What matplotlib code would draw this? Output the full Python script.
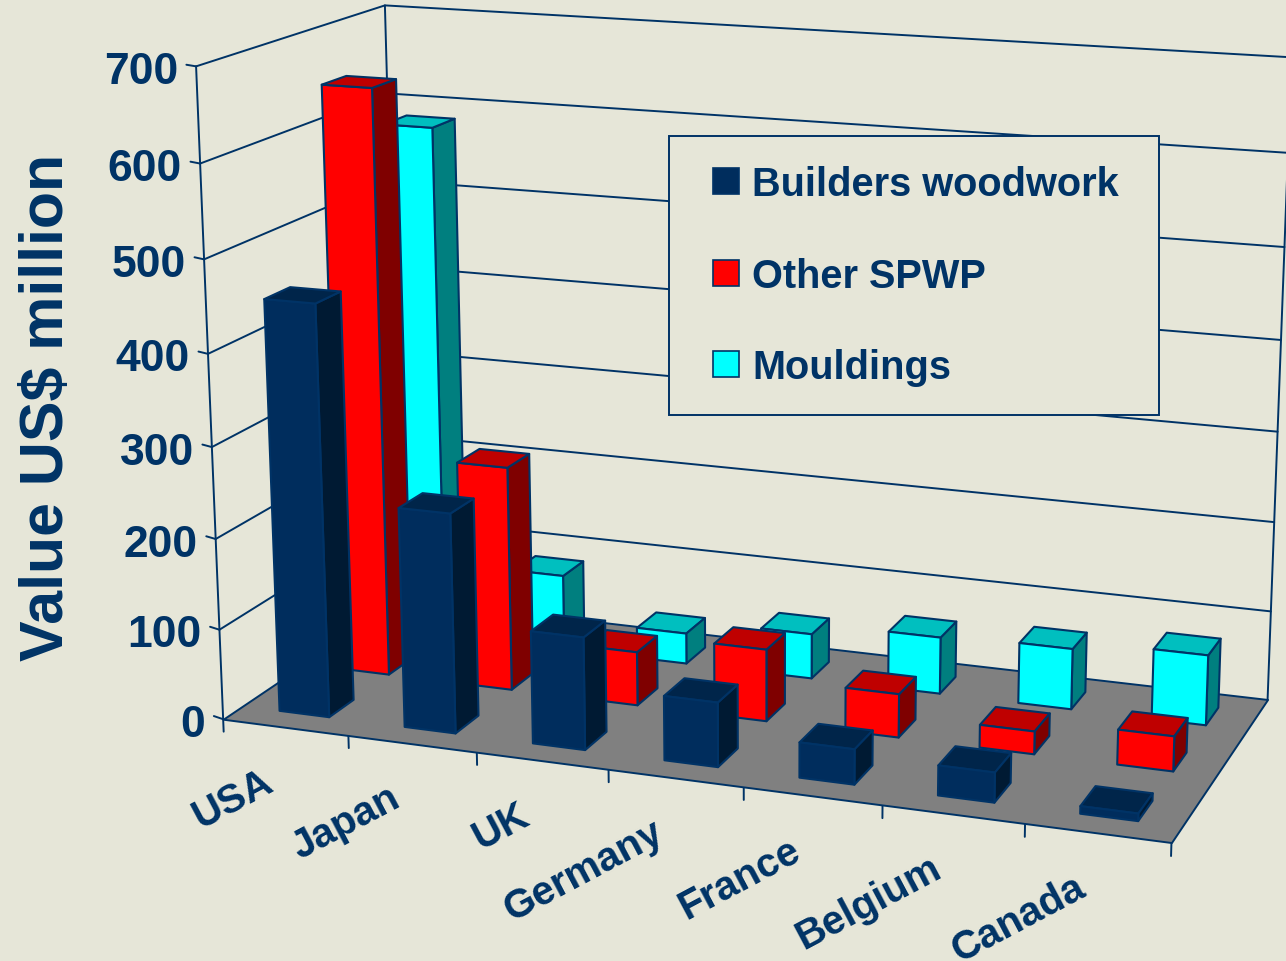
#!/usr/bin/python3

import matplotlib
matplotlib.use('Agg')
import matplotlib.pyplot as plt
from matplotlib.lines import Line2D
from mpl_toolkits.mplot3d import proj3d
from mpl_toolkits.mplot3d.art3d import Poly3DCollection
import numpy as np

countries = ['USA', 'Japan', 'UK', 'Germany', 'France', 'Belgium', 'Canada']
series_names = ['Builders woodwork', 'Other SPWP', 'Mouldings']
builders = [452, 241, 123, 70, 38, 32, 8]
other_spwp = [653, 251, 60, 80, 48, 25, 38]
mouldings = [585, 86, 35, 51, 64, 68, 78]
z_ticks = [0, 100, 200, 300, 400, 500, 600, 700]

W, H = 1286, 962
bg = '#e6e6d8'
navy = '#003366'
# front, top, side
shades = [('#002d5d', '#00254a', '#001a33'),
          ('#ff0000', '#bf0000', '#7f0000'),
          ('#00ffff', '#00bfbf', '#007f7f')]

plt.rcParams['font.family'] = ['Liberation Sans', 'DejaVu Sans']
plt.rcParams['font.weight'] = 'bold'

fig = plt.figure(figsize=(W/100, H/100), dpi=100, facecolor=bg)
ax = fig.add_axes([0, 0, 1, 1], projection='3d', computed_zorder=False)
ax.set_axis_off()
ax.set_facecolor('none')

# camera fitted to frame points: (x, y, z) -> pixel
frame_world = [(0, 0, 0), (1, 0, 0), (2, 0, 0), (3, 0, 0), (4, 0, 0), (5, 0, 0), (6, 0, 0), (7, 0, 0),
               (0, 0, 700), (0, 0, 600), (0, 0, 500), (0, 0, 200), (0, 0, 100),
               (0, 3, 700), (0, 3, 0), (7, 3, 0), (7, 3, 100), (7, 3, 200), (7, 3, 500), (7, 3, 700)]
frame_pixel = [(223, 721), (348, 737), (478, 754), (609, 771), (744, 787), (883, 806), (1024, 824), (1171, 842),
               (196, 67), (200, 164), (204, 260), (216, 540), (219, 632),
               (385, 8), (401, 597), (1267, 702), (1271, 614), (1275, 523), (1285, 247), (1291, 58)]

rows = []
for (X, Y, Z), (u, v) in zip(frame_world, frame_pixel):
    u, v = u/1000, (H - v)/1000
    Z = Z/100
    rows.append([X, Y, Z, 1, 0, 0, 0, 0, -u*X, -u*Y, -u*Z, -u])
    rows.append([0, 0, 0, 0, X, Y, Z, 1, -v*X, -v*Y, -v*Z, -v])
P = np.linalg.svd(np.array(rows))[2][-1].reshape(3, 4)
P[:, 2] /= 100
P = P / P[2, 3]

ax.apply_aspect()
to_data = ax.transData.inverted().frozen()
o = to_data.transform((0, 0))
e = to_data.transform((1000, 1000)) - o
A = np.array([[e[0], 0, o[0]], [0, e[1], o[1]], [0, 0, 1]])
P = A @ P
# third row is only a depth, kept negative because Line3D clips points with depth above 0
M = np.vstack([P[0], P[1], [-0.1, 0.3, -0.001, -2], P[2]])
ax.get_proj = lambda: M


def label(x, y, z, text, offset, **kw):
    # Text3D ignores rotation, so the labels are 2D annotations on the projected point
    xd, yd, _ = proj3d.proj_transform(x, y, z, M)
    ax.annotate(text, xy=(xd, yd), xycoords='data', xytext=offset, textcoords='offset pixels',
                color=navy, annotation_clip=False, zorder=500, **kw)


nx = len(countries)
ny = len(series_names)
ztop = z_ticks[-1]

# walls
line = dict(color=navy, lw=1.4, clip_on=False, zorder=1, solid_capstyle='round')
for z in z_ticks[1:]:
    ax.plot([0, 0, nx], [0, ny, ny], [z, z, z], **line)
    ax.plot([-0.095, 0], [0.037, 0], [z, z], **line)
ax.plot([-0.095, 0], [0.037, 0], [0, 0], **line)
for px, py in [(0, 0), (0, ny), (nx, ny)]:
    ax.plot([px, px], [py, py], [0, ztop], **line)

# floor
floor = Poly3DCollection([[(0, 0, 0), (nx, 0, 0), (nx, ny, 0), (0, ny, 0)]],
                         facecolors='#808080', edgecolors=navy, linewidths=1.4, zorder=2)
floor.set_clip_on(False)
ax.add_collection3d(floor)
for i in range(nx + 1):
    ax.plot([i, i], [0, 0], [0, -14], **line)

# bars, far series first and left to right inside a series
values = [builders, other_spwp, mouldings]
order = 3
for j in range(ny - 1, -1, -1):
    front, top, side = shades[j]
    # faces in bar3d order: -z, +z, -y, +y, -x, +x
    faces = ['none', top, front, 'none', 'none', side]
    edges = ['none', navy, navy, 'none', 'none', navy]
    for i in range(nx):
        ax.bar3d(i + 0.3, j + 0.3, 0, 0.4, 0.4, values[j][i], color=faces,
                 edgecolors=edges, linewidths=1.5, shade=False, zorder=order, clip_on=False)
        order += 1

# tick labels
for z in z_ticks:
    label(0, 0, z, str(z), (-18, -5), fontsize=32, ha='right', va='center')
for i, name in enumerate(countries):
    label(i + 0.5, 0, 0, name, (-15, -51), fontsize=29, rotation=28, ha='right', va='center',
          rotation_mode='anchor')

fig.text(48/W, 1 - 407/H, 'Value US$ million', color=navy, fontsize=43.8, rotation=90,
         ha='center', va='center')

handles = [Line2D([], [], ls='none', marker='s', ms=19.4, mfc=shades[k][0], mec=navy, mew=1.2)
           for k in range(ny)]
leg = ax.legend(handles, series_names, loc='lower left', mode='expand', ncol=1, numpoints=1,
                bbox_to_anchor=(669/W, 1 - 416/H, 490/W, 278/H), bbox_transform=fig.transFigure,
                fontsize=28.6, labelcolor=navy, frameon=True, fancybox=False, framealpha=1,
                facecolor=bg, edgecolor=navy, borderaxespad=0, borderpad=0.73, labelspacing=1.345,
                handlelength=1.43, handleheight=0.68, handletextpad=-0.07)
leg.get_frame().set_linewidth(1.4)
leg.set_zorder(1000)

fig.savefig('out.png', dpi=100, facecolor=bg)
